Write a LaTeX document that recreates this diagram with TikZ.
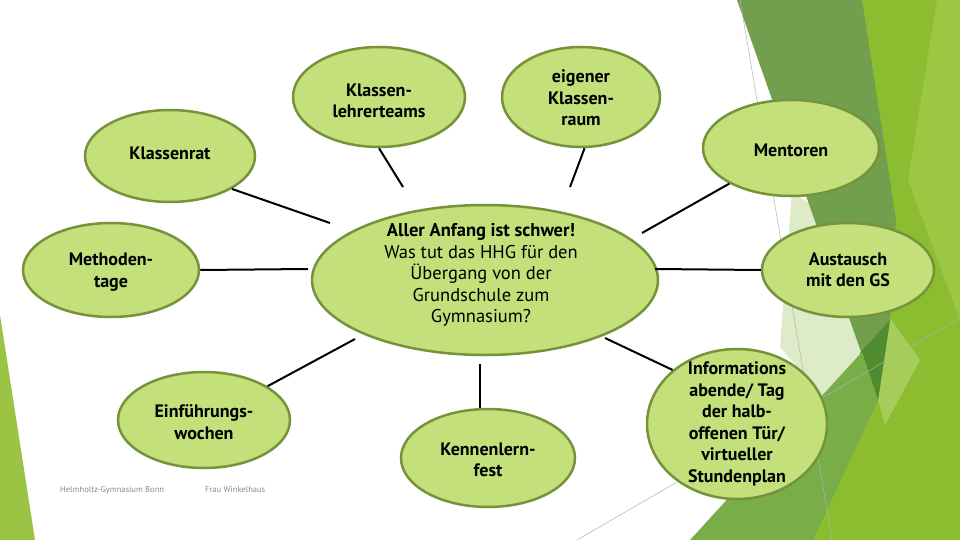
\documentclass[tikz,border=0pt]{standalone}
\usepackage{fontspec}
\setmainfont{PT Sans}
\usetikzlibrary{shapes.geometric}
\definecolor{bubblefill}{HTML}{C3E07A}
\definecolor{bubbleline}{HTML}{76933C}
\definecolor{decobright}{HTML}{8CBC30}
\definecolor{decolight}{HTML}{9DC743}
\definecolor{decoolive}{HTML}{729F4E}
\definecolor{decodark}{HTML}{4F8C2F}
\definecolor{decopale}{HTML}{DDEBC8}
\definecolor{decomed}{HTML}{78AD48}
\definecolor{decowedge}{HTML}{A6CD5A}
\definecolor{decoleft}{HTML}{9BC445}
\definecolor{footgray}{HTML}{8A8A8A}
\begin{document}
\begin{tikzpicture}[x=1pt,y=-1pt,
  bubble/.style={ellipse, draw=bubbleline, line width=2.5pt, fill=bubblefill, inner sep=0pt},
  btext/.style={align=center, font=\fontsize{18}{21.5}\selectfont\bfseries, inner sep=0pt, text=black},
  ctext/.style={align=center, font=\fontsize{18.5}{21.5}\selectfont, inner sep=0pt, text=black},
  conn/.style={draw=black, line width=2pt},
  foot/.style={font=\fontsize{8.5}{10}\selectfont, text=footgray, inner sep=0pt},
  thinline/.style={draw=black!30, line width=0.5pt}]
\useasboundingbox (0,0) rectangle (960,540);
\fill[white] (0,0) rectangle (960,540);
% left decoration
\fill[decoleft] (0,315) -- (35,540) -- (0,540) -- cycle;
% right decoration
\fill[decobright] (862,0) -- (960,0) -- (960,540) -- (810,540) -- cycle;
\fill[decolight] (937,0) -- (960,0) -- (960,320) -- (908,180) -- cycle;
\fill[decowedge] (890,318) -- (920,360) -- (885,425) -- (878,400) -- cycle;
\fill[decopale] (792,192) -- (812,205) -- (862,352) -- (823,397) -- (780,347) -- cycle;
\fill[decoolive] (737,0) -- (862,0) -- (896,220) -- (890,320) -- (878,400) -- cycle;
\fill[decodark] (860,353) -- (890,320) -- (878,400) -- cycle;
\fill[decomed] (690,540) -- (862,352) -- (878,400) -- (813,540) -- cycle;
\draw[thinline] (740,0) -- (832,540);
\draw[thinline] (577,540) -- (960,318);

% bubbles
\node[bubble, minimum width=346pt, minimum height=150pt] (center) at (485,280) {};
\node[bubble, minimum width=172pt, minimum height=100pt] (klt) at (379,97) {};
\node[bubble, minimum width=158pt, minimum height=100pt] (eig) at (581,97) {};
\node[bubble, minimum width=170pt, minimum height=92pt] (kr) at (170,156) {};
\node[bubble, minimum width=176pt, minimum height=96pt] (men) at (791,148) {};
\node[bubble, minimum width=176pt, minimum height=94pt] (mt) at (111,270) {};
\node[bubble, minimum width=172pt, minimum height=94pt] (aus) at (848,270) {};
\node[bubble, minimum width=180pt, minimum height=150pt] (inf) at (737,424) {};
\node[bubble, minimum width=174pt, minimum height=98pt] (kf) at (488,458) {};
\node[bubble, minimum width=172pt, minimum height=96pt] (ein) at (204,420) {};

% texts
\node[ctext] (center-t) at (481,275) {\textbf{Aller Anfang ist schwer!}\\Was tut das HHG für den\\Übergang von der\\Grundschule zum\\Gymnasium?};
\node[btext] (klt-t) at (379,101) {Klassen-\\lehrerteams};
\node[btext] (eig-t) at (581,98) {eigener\\Klassen-\\raum};
\node[btext] (kr-t) at (170,153) {Klassenrat};
\node[btext] (men-t) at (791,150) {Mentoren};
\node[btext] (mt-t) at (111,272) {Methoden-\\tage};
\node[btext] (aus-t) at (848,270) {Austausch\\mit den GS};
\node[btext] (inf-t) at (737,424) {Informations\\abende/ Tag\\der halb-\\offenen Tür/\\virtueller\\Stundenplan};
\node[btext] (kf-t) at (488,460) {Kennenlern-\\fest};
\node[btext] (ein-t) at (204,422) {Einführungs-\\wochen};

% footer
\node[foot, anchor=west] (foot1) at (60,490) {Helmholtz-Gymnasium Bonn};
\node[foot, anchor=west] (foot2) at (205,490) {Frau Winkelhaus};

% connector ends near the centre
\coordinate (e-kr) at (330,223);
\coordinate (e-mt) at (308,269);
\coordinate (e-klt) at (403,187);
\coordinate (e-eig) at (570,187);
\coordinate (e-men) at (642,233);
\coordinate (e-aus) at (655,269);
\coordinate (e-inf) at (605,338);
\coordinate (e-kf) at (480,364);
\coordinate (e-ein) at (355,339);

\draw[conn] (kr.-28) -- (e-kr);
\draw[conn] (mt.east) -- (e-mt);
\draw[conn] (klt.south) -- (e-klt);
\draw[conn] (eig.-86) -- (e-eig);
\draw[conn] (men.210) -- (e-men);
\draw[conn] (aus.west) -- (e-aus);
\draw[conn] (inf.140) -- (e-inf);
\draw[conn] (e-kf) -- (e-kf |- kf.north);
\draw[conn] (ein.28) -- (e-ein);
\end{tikzpicture}
\end{document}
